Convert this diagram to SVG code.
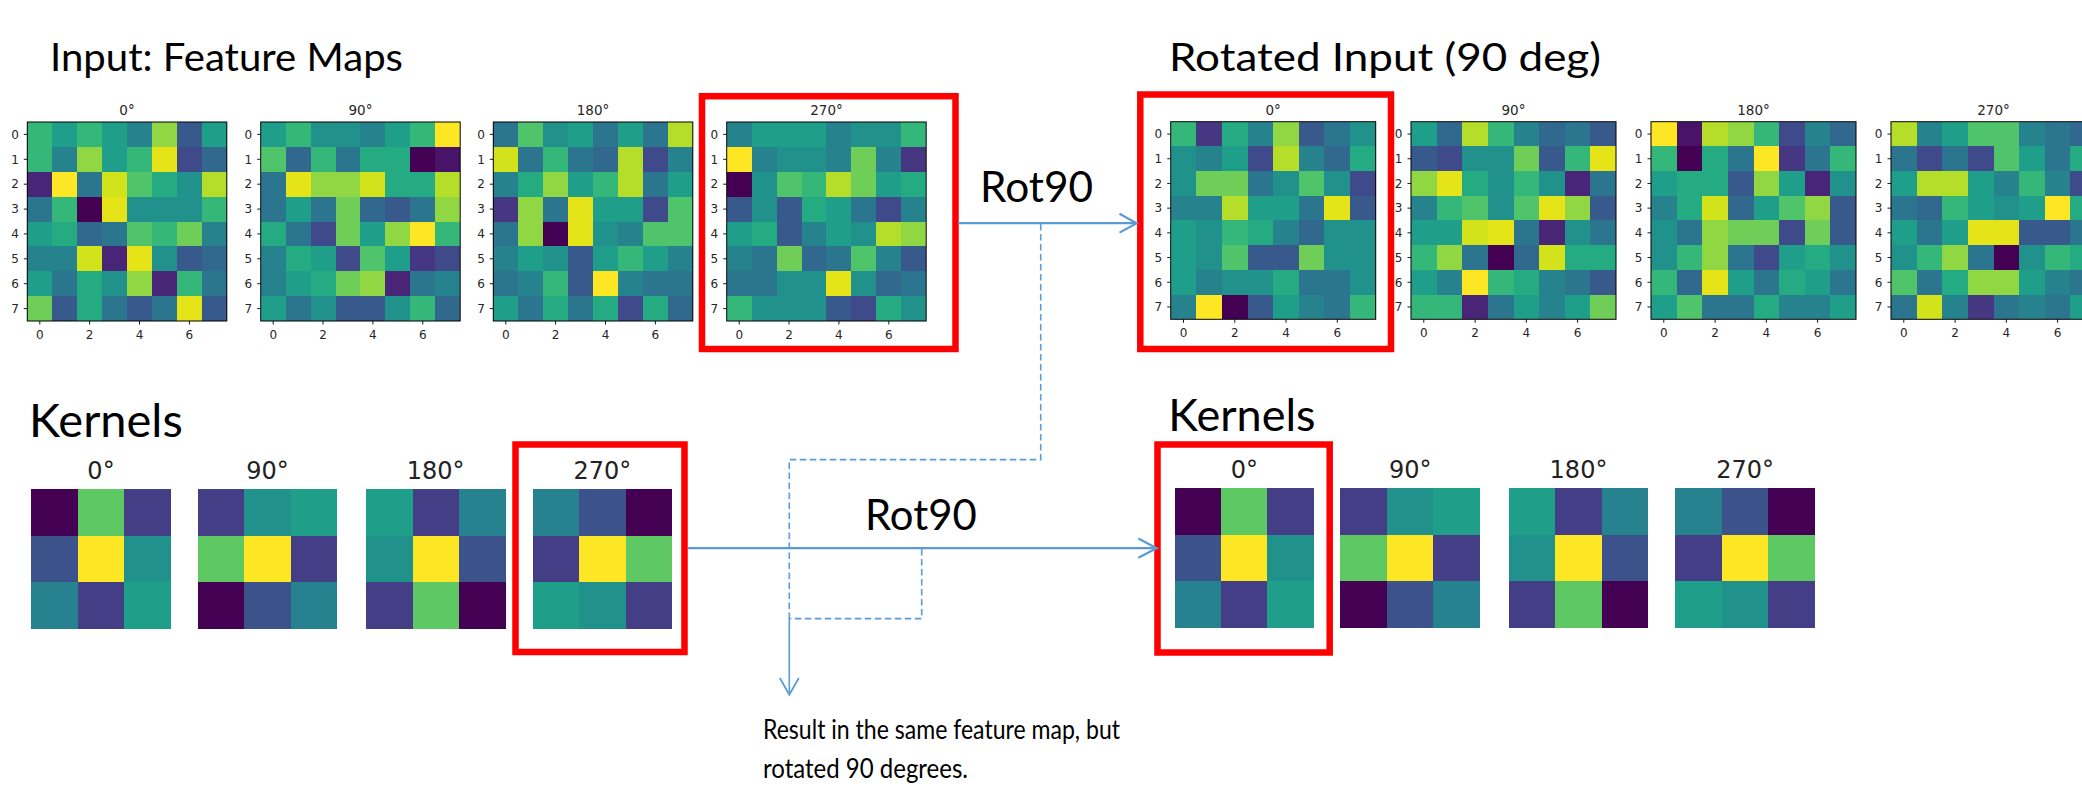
<svg xmlns="http://www.w3.org/2000/svg" xmlns:xlink="http://www.w3.org/1999/xlink" width="2082" height="793" viewBox="0 0 2082 793">
<style>
.k0{fill:#440154}.k1{fill:#47146a}.k2{fill:#482576}.k3{fill:#453781}.k4{fill:#3e4a89}.k5{fill:#38598c}.k6{fill:#31688e}.k7{fill:#2b758e}.k8{fill:#26838e}.k9{fill:#21918c}.k10{fill:#1f9e89}.k11{fill:#25ab82}.k12{fill:#35b779}.k13{fill:#4fc46a}.k14{fill:#6ece58}.k15{fill:#90d743}.k16{fill:#b5de2b}.k17{fill:#d2e21b}.k18{fill:#e5e419}.k19{fill:#fde725}
.frame{fill:none;stroke:#000;stroke-width:1}
.tick{fill:none;stroke:#000;stroke-width:0.9}
.tle{font-family:"DejaVu Sans",sans-serif;font-size:12px;fill:#262626;text-anchor:end}
.tlm{font-family:"DejaVu Sans",sans-serif;font-size:12px;fill:#262626;text-anchor:middle}
.st{font-family:"DejaVu Sans",sans-serif;font-size:13.5px;fill:#262626;text-anchor:middle}
.kt{font-family:"DejaVu Sans",sans-serif;font-size:24px;fill:#222;text-anchor:middle}
.red{fill:none;stroke:#ff0000;stroke-width:6.5}
.big{font-family:Lato,"Liberation Sans",sans-serif;fill:#000}
.conn{fill:none;stroke:#5b9bd5;stroke-width:2.2}
.dash{fill:none;stroke:#5b9bd5;stroke-width:1.6;stroke-dasharray:6.5 3.5}
</style>
<defs>
<g id="mA" shape-rendering="crispEdges">
<rect x="0" y="0" width="1" height="1" class="k12"/><rect x="1" y="0" width="1" height="1" class="k10"/><rect x="2" y="0" width="1" height="1" class="k12"/><rect x="3" y="0" width="1" height="1" class="k10"/><rect x="4" y="0" width="1" height="1" class="k8"/><rect x="5" y="0" width="1" height="1" class="k15"/><rect x="6" y="0" width="1" height="1" class="k5"/><rect x="7" y="0" width="1" height="1" class="k10"/>
<rect x="0" y="1" width="1" height="1" class="k12"/><rect x="1" y="1" width="1" height="1" class="k8"/><rect x="2" y="1" width="1" height="1" class="k15"/><rect x="3" y="1" width="1" height="1" class="k10"/><rect x="4" y="1" width="1" height="1" class="k12"/><rect x="5" y="1" width="1" height="1" class="k18"/><rect x="6" y="1" width="1" height="1" class="k4"/><rect x="7" y="1" width="1" height="1" class="k6"/>
<rect x="0" y="2" width="1" height="1" class="k2"/><rect x="1" y="2" width="1" height="1" class="k19"/><rect x="2" y="2" width="1" height="1" class="k7"/><rect x="3" y="2" width="1" height="1" class="k17"/><rect x="4" y="2" width="1" height="1" class="k13"/><rect x="5" y="2" width="1" height="1" class="k11"/><rect x="6" y="2" width="1" height="1" class="k9"/><rect x="7" y="2" width="1" height="1" class="k16"/>
<rect x="0" y="3" width="1" height="1" class="k7"/><rect x="1" y="3" width="1" height="1" class="k12"/><rect x="2" y="3" width="1" height="1" class="k0"/><rect x="3" y="3" width="1" height="1" class="k18"/><rect x="4" y="3" width="1" height="1" class="k9"/><rect x="5" y="3" width="1" height="1" class="k9"/><rect x="6" y="3" width="1" height="1" class="k9"/><rect x="7" y="3" width="1" height="1" class="k12"/>
<rect x="0" y="4" width="1" height="1" class="k10"/><rect x="1" y="4" width="1" height="1" class="k11"/><rect x="2" y="4" width="1" height="1" class="k6"/><rect x="3" y="4" width="1" height="1" class="k7"/><rect x="4" y="4" width="1" height="1" class="k13"/><rect x="5" y="4" width="1" height="1" class="k12"/><rect x="6" y="4" width="1" height="1" class="k14"/><rect x="7" y="4" width="1" height="1" class="k8"/>
<rect x="0" y="5" width="1" height="1" class="k8"/><rect x="1" y="5" width="1" height="1" class="k8"/><rect x="2" y="5" width="1" height="1" class="k17"/><rect x="3" y="5" width="1" height="1" class="k2"/><rect x="4" y="5" width="1" height="1" class="k18"/><rect x="5" y="5" width="1" height="1" class="k9"/><rect x="6" y="5" width="1" height="1" class="k5"/><rect x="7" y="5" width="1" height="1" class="k6"/>
<rect x="0" y="6" width="1" height="1" class="k10"/><rect x="1" y="6" width="1" height="1" class="k7"/><rect x="2" y="6" width="1" height="1" class="k11"/><rect x="3" y="6" width="1" height="1" class="k9"/><rect x="4" y="6" width="1" height="1" class="k15"/><rect x="5" y="6" width="1" height="1" class="k2"/><rect x="6" y="6" width="1" height="1" class="k12"/><rect x="7" y="6" width="1" height="1" class="k7"/>
<rect x="0" y="7" width="1" height="1" class="k14"/><rect x="1" y="7" width="1" height="1" class="k5"/><rect x="2" y="7" width="1" height="1" class="k11"/><rect x="3" y="7" width="1" height="1" class="k7"/><rect x="4" y="7" width="1" height="1" class="k5"/><rect x="5" y="7" width="1" height="1" class="k7"/><rect x="6" y="7" width="1" height="1" class="k18"/><rect x="7" y="7" width="1" height="1" class="k5"/>
</g>
<g id="mB" shape-rendering="crispEdges">
<rect x="0" y="0" width="1" height="1" class="k10"/><rect x="1" y="0" width="1" height="1" class="k12"/><rect x="2" y="0" width="1" height="1" class="k9"/><rect x="3" y="0" width="1" height="1" class="k9"/><rect x="4" y="0" width="1" height="1" class="k8"/><rect x="5" y="0" width="1" height="1" class="k10"/><rect x="6" y="0" width="1" height="1" class="k12"/><rect x="7" y="0" width="1" height="1" class="k19"/>
<rect x="0" y="1" width="1" height="1" class="k13"/><rect x="1" y="1" width="1" height="1" class="k6"/><rect x="2" y="1" width="1" height="1" class="k12"/><rect x="3" y="1" width="1" height="1" class="k7"/><rect x="4" y="1" width="1" height="1" class="k11"/><rect x="5" y="1" width="1" height="1" class="k11"/><rect x="6" y="1" width="1" height="1" class="k0"/><rect x="7" y="1" width="1" height="1" class="k1"/>
<rect x="0" y="2" width="1" height="1" class="k7"/><rect x="1" y="2" width="1" height="1" class="k18"/><rect x="2" y="2" width="1" height="1" class="k15"/><rect x="3" y="2" width="1" height="1" class="k15"/><rect x="4" y="2" width="1" height="1" class="k17"/><rect x="5" y="2" width="1" height="1" class="k11"/><rect x="6" y="2" width="1" height="1" class="k11"/><rect x="7" y="2" width="1" height="1" class="k16"/>
<rect x="0" y="3" width="1" height="1" class="k7"/><rect x="1" y="3" width="1" height="1" class="k10"/><rect x="2" y="3" width="1" height="1" class="k7"/><rect x="3" y="3" width="1" height="1" class="k14"/><rect x="4" y="3" width="1" height="1" class="k6"/><rect x="5" y="3" width="1" height="1" class="k5"/><rect x="6" y="3" width="1" height="1" class="k7"/><rect x="7" y="3" width="1" height="1" class="k15"/>
<rect x="0" y="4" width="1" height="1" class="k11"/><rect x="1" y="4" width="1" height="1" class="k7"/><rect x="2" y="4" width="1" height="1" class="k4"/><rect x="3" y="4" width="1" height="1" class="k14"/><rect x="4" y="4" width="1" height="1" class="k10"/><rect x="5" y="4" width="1" height="1" class="k15"/><rect x="6" y="4" width="1" height="1" class="k19"/><rect x="7" y="4" width="1" height="1" class="k12"/>
<rect x="0" y="5" width="1" height="1" class="k8"/><rect x="1" y="5" width="1" height="1" class="k11"/><rect x="2" y="5" width="1" height="1" class="k10"/><rect x="3" y="5" width="1" height="1" class="k4"/><rect x="4" y="5" width="1" height="1" class="k13"/><rect x="5" y="5" width="1" height="1" class="k10"/><rect x="6" y="5" width="1" height="1" class="k3"/><rect x="7" y="5" width="1" height="1" class="k4"/>
<rect x="0" y="6" width="1" height="1" class="k8"/><rect x="1" y="6" width="1" height="1" class="k10"/><rect x="2" y="6" width="1" height="1" class="k11"/><rect x="3" y="6" width="1" height="1" class="k14"/><rect x="4" y="6" width="1" height="1" class="k15"/><rect x="5" y="6" width="1" height="1" class="k2"/><rect x="6" y="6" width="1" height="1" class="k7"/><rect x="7" y="6" width="1" height="1" class="k8"/>
<rect x="0" y="7" width="1" height="1" class="k10"/><rect x="1" y="7" width="1" height="1" class="k7"/><rect x="2" y="7" width="1" height="1" class="k9"/><rect x="3" y="7" width="1" height="1" class="k5"/><rect x="4" y="7" width="1" height="1" class="k5"/><rect x="5" y="7" width="1" height="1" class="k9"/><rect x="6" y="7" width="1" height="1" class="k12"/><rect x="7" y="7" width="1" height="1" class="k6"/>
</g>
<g id="mC" shape-rendering="crispEdges">
<rect x="0" y="0" width="1" height="1" class="k7"/><rect x="1" y="0" width="1" height="1" class="k13"/><rect x="2" y="0" width="1" height="1" class="k9"/><rect x="3" y="0" width="1" height="1" class="k10"/><rect x="4" y="0" width="1" height="1" class="k7"/><rect x="5" y="0" width="1" height="1" class="k10"/><rect x="6" y="0" width="1" height="1" class="k7"/><rect x="7" y="0" width="1" height="1" class="k16"/>
<rect x="0" y="1" width="1" height="1" class="k17"/><rect x="1" y="1" width="1" height="1" class="k7"/><rect x="2" y="1" width="1" height="1" class="k12"/><rect x="3" y="1" width="1" height="1" class="k7"/><rect x="4" y="1" width="1" height="1" class="k6"/><rect x="5" y="1" width="1" height="1" class="k16"/><rect x="6" y="1" width="1" height="1" class="k4"/><rect x="7" y="1" width="1" height="1" class="k8"/>
<rect x="0" y="2" width="1" height="1" class="k8"/><rect x="1" y="2" width="1" height="1" class="k11"/><rect x="2" y="2" width="1" height="1" class="k15"/><rect x="3" y="2" width="1" height="1" class="k10"/><rect x="4" y="2" width="1" height="1" class="k12"/><rect x="5" y="2" width="1" height="1" class="k16"/><rect x="6" y="2" width="1" height="1" class="k7"/><rect x="7" y="2" width="1" height="1" class="k10"/>
<rect x="0" y="3" width="1" height="1" class="k3"/><rect x="1" y="3" width="1" height="1" class="k15"/><rect x="2" y="3" width="1" height="1" class="k7"/><rect x="3" y="3" width="1" height="1" class="k18"/><rect x="4" y="3" width="1" height="1" class="k10"/><rect x="5" y="3" width="1" height="1" class="k10"/><rect x="6" y="3" width="1" height="1" class="k4"/><rect x="7" y="3" width="1" height="1" class="k13"/>
<rect x="0" y="4" width="1" height="1" class="k7"/><rect x="1" y="4" width="1" height="1" class="k15"/><rect x="2" y="4" width="1" height="1" class="k0"/><rect x="3" y="4" width="1" height="1" class="k18"/><rect x="4" y="4" width="1" height="1" class="k9"/><rect x="5" y="4" width="1" height="1" class="k8"/><rect x="6" y="4" width="1" height="1" class="k13"/><rect x="7" y="4" width="1" height="1" class="k13"/>
<rect x="0" y="5" width="1" height="1" class="k8"/><rect x="1" y="5" width="1" height="1" class="k10"/><rect x="2" y="5" width="1" height="1" class="k9"/><rect x="3" y="5" width="1" height="1" class="k5"/><rect x="4" y="5" width="1" height="1" class="k10"/><rect x="5" y="5" width="1" height="1" class="k12"/><rect x="6" y="5" width="1" height="1" class="k10"/><rect x="7" y="5" width="1" height="1" class="k8"/>
<rect x="0" y="6" width="1" height="1" class="k7"/><rect x="1" y="6" width="1" height="1" class="k8"/><rect x="2" y="6" width="1" height="1" class="k12"/><rect x="3" y="6" width="1" height="1" class="k5"/><rect x="4" y="6" width="1" height="1" class="k19"/><rect x="5" y="6" width="1" height="1" class="k8"/><rect x="6" y="6" width="1" height="1" class="k7"/><rect x="7" y="6" width="1" height="1" class="k7"/>
<rect x="0" y="7" width="1" height="1" class="k10"/><rect x="1" y="7" width="1" height="1" class="k7"/><rect x="2" y="7" width="1" height="1" class="k11"/><rect x="3" y="7" width="1" height="1" class="k7"/><rect x="4" y="7" width="1" height="1" class="k11"/><rect x="5" y="7" width="1" height="1" class="k4"/><rect x="6" y="7" width="1" height="1" class="k11"/><rect x="7" y="7" width="1" height="1" class="k6"/>
</g>
<g id="mD" shape-rendering="crispEdges">
<rect x="0" y="0" width="1" height="1" class="k8"/><rect x="1" y="0" width="1" height="1" class="k10"/><rect x="2" y="0" width="1" height="1" class="k10"/><rect x="3" y="0" width="1" height="1" class="k10"/><rect x="4" y="0" width="1" height="1" class="k8"/><rect x="5" y="0" width="1" height="1" class="k9"/><rect x="6" y="0" width="1" height="1" class="k9"/><rect x="7" y="0" width="1" height="1" class="k12"/>
<rect x="0" y="1" width="1" height="1" class="k19"/><rect x="1" y="1" width="1" height="1" class="k8"/><rect x="2" y="1" width="1" height="1" class="k9"/><rect x="3" y="1" width="1" height="1" class="k9"/><rect x="4" y="1" width="1" height="1" class="k8"/><rect x="5" y="1" width="1" height="1" class="k14"/><rect x="6" y="1" width="1" height="1" class="k8"/><rect x="7" y="1" width="1" height="1" class="k3"/>
<rect x="0" y="2" width="1" height="1" class="k0"/><rect x="1" y="2" width="1" height="1" class="k9"/><rect x="2" y="2" width="1" height="1" class="k13"/><rect x="3" y="2" width="1" height="1" class="k12"/><rect x="4" y="2" width="1" height="1" class="k16"/><rect x="5" y="2" width="1" height="1" class="k14"/><rect x="6" y="2" width="1" height="1" class="k10"/><rect x="7" y="2" width="1" height="1" class="k11"/>
<rect x="0" y="3" width="1" height="1" class="k5"/><rect x="1" y="3" width="1" height="1" class="k9"/><rect x="2" y="3" width="1" height="1" class="k5"/><rect x="3" y="3" width="1" height="1" class="k11"/><rect x="4" y="3" width="1" height="1" class="k10"/><rect x="5" y="3" width="1" height="1" class="k7"/><rect x="6" y="3" width="1" height="1" class="k4"/><rect x="7" y="3" width="1" height="1" class="k8"/>
<rect x="0" y="4" width="1" height="1" class="k10"/><rect x="1" y="4" width="1" height="1" class="k11"/><rect x="2" y="4" width="1" height="1" class="k5"/><rect x="3" y="4" width="1" height="1" class="k8"/><rect x="4" y="4" width="1" height="1" class="k10"/><rect x="5" y="4" width="1" height="1" class="k9"/><rect x="6" y="4" width="1" height="1" class="k16"/><rect x="7" y="4" width="1" height="1" class="k15"/>
<rect x="0" y="5" width="1" height="1" class="k8"/><rect x="1" y="5" width="1" height="1" class="k7"/><rect x="2" y="5" width="1" height="1" class="k14"/><rect x="3" y="5" width="1" height="1" class="k6"/><rect x="4" y="5" width="1" height="1" class="k7"/><rect x="5" y="5" width="1" height="1" class="k13"/><rect x="6" y="5" width="1" height="1" class="k8"/><rect x="7" y="5" width="1" height="1" class="k5"/>
<rect x="0" y="6" width="1" height="1" class="k7"/><rect x="1" y="6" width="1" height="1" class="k7"/><rect x="2" y="6" width="1" height="1" class="k9"/><rect x="3" y="6" width="1" height="1" class="k9"/><rect x="4" y="6" width="1" height="1" class="k18"/><rect x="5" y="6" width="1" height="1" class="k9"/><rect x="6" y="6" width="1" height="1" class="k6"/><rect x="7" y="6" width="1" height="1" class="k7"/>
<rect x="0" y="7" width="1" height="1" class="k12"/><rect x="1" y="7" width="1" height="1" class="k9"/><rect x="2" y="7" width="1" height="1" class="k9"/><rect x="3" y="7" width="1" height="1" class="k9"/><rect x="4" y="7" width="1" height="1" class="k5"/><rect x="5" y="7" width="1" height="1" class="k4"/><rect x="6" y="7" width="1" height="1" class="k11"/><rect x="7" y="7" width="1" height="1" class="k9"/>
</g>
<g id="kern" shape-rendering="crispEdges">
<rect x="0" y="0" width="1" height="1" fill="#440154"/><rect x="1" y="0" width="1" height="1" fill="#5ec962"/><rect x="2" y="0" width="1" height="1" fill="#433e85"/>
<rect x="0" y="1" width="1" height="1" fill="#3b528b"/><rect x="1" y="1" width="1" height="1" fill="#fde725"/><rect x="2" y="1" width="1" height="1" fill="#21918c"/>
<rect x="0" y="2" width="1" height="1" fill="#26828e"/><rect x="1" y="2" width="1" height="1" fill="#433e85"/><rect x="2" y="2" width="1" height="1" fill="#1f9e89"/>
</g>
</defs>
<rect width="2082" height="793" fill="#fff"/>

<g id="title-input"><text class="big" x="50" y="71" font-size="38" textLength="353" lengthAdjust="spacingAndGlyphs">Input: Feature Maps</text></g>
<g id="title-rotated"><text class="big" x="1169" y="71" font-size="38" textLength="432" lengthAdjust="spacingAndGlyphs">Rotated Input (90 deg)</text></g>

<g id="input-0">
<use xlink:href="#mA" href="#mA" transform="translate(27.3,122) scale(24.94,24.875)"/>
<rect class="frame" x="27.3" y="122" width="199.5" height="199"/>
<path class="tick" d="M23.8 134.4h3.5M23.8 159.3h3.5M23.8 184.2h3.5M23.8 209.1h3.5M23.8 233.9h3.5M23.8 258.8h3.5M23.8 283.7h3.5M23.8 308.6h3.5M39.8 321v3.5M89.6 321v3.5M139.5 321v3.5M189.4 321v3.5"/>
<text class="st" x="127" y="115">0°</text>
<text class="tle" x="18.8" y="138.6">0</text><text class="tle" x="18.8" y="163.5">1</text><text class="tle" x="18.8" y="188.4">2</text><text class="tle" x="18.8" y="213.3">3</text><text class="tle" x="18.8" y="238.1">4</text><text class="tle" x="18.8" y="263">5</text><text class="tle" x="18.8" y="287.9">6</text><text class="tle" x="18.8" y="312.8">7</text>
<text class="tlm" x="39.8" y="339">0</text><text class="tlm" x="89.6" y="339">2</text><text class="tlm" x="139.5" y="339">4</text><text class="tlm" x="189.4" y="339">6</text>
</g>
<g id="input-90">
<use xlink:href="#mB" href="#mB" transform="translate(260.7,122) scale(24.94,24.875)"/>
<rect class="frame" x="260.7" y="122" width="199.5" height="199"/>
<path class="tick" d="M257.2 134.4h3.5M257.2 159.3h3.5M257.2 184.2h3.5M257.2 209.1h3.5M257.2 233.9h3.5M257.2 258.8h3.5M257.2 283.7h3.5M257.2 308.6h3.5M273.2 321v3.5M323 321v3.5M372.9 321v3.5M422.8 321v3.5"/>
<text class="st" x="360.5" y="115">90°</text>
<text class="tle" x="252.2" y="138.6">0</text><text class="tle" x="252.2" y="163.5">1</text><text class="tle" x="252.2" y="188.4">2</text><text class="tle" x="252.2" y="213.3">3</text><text class="tle" x="252.2" y="238.1">4</text><text class="tle" x="252.2" y="263">5</text><text class="tle" x="252.2" y="287.9">6</text><text class="tle" x="252.2" y="312.8">7</text>
<text class="tlm" x="273.2" y="339">0</text><text class="tlm" x="323" y="339">2</text><text class="tlm" x="372.9" y="339">4</text><text class="tlm" x="422.8" y="339">6</text>
</g>
<g id="input-180">
<use xlink:href="#mC" href="#mC" transform="translate(493.3,122) scale(24.94,24.875)"/>
<rect class="frame" x="493.3" y="122" width="199.5" height="199"/>
<path class="tick" d="M489.8 134.4h3.5M489.8 159.3h3.5M489.8 184.2h3.5M489.8 209.1h3.5M489.8 233.9h3.5M489.8 258.8h3.5M489.8 283.7h3.5M489.8 308.6h3.5M505.8 321v3.5M555.6 321v3.5M605.5 321v3.5M655.4 321v3.5"/>
<text class="st" x="593" y="115">180°</text>
<text class="tle" x="484.8" y="138.6">0</text><text class="tle" x="484.8" y="163.5">1</text><text class="tle" x="484.8" y="188.4">2</text><text class="tle" x="484.8" y="213.3">3</text><text class="tle" x="484.8" y="238.1">4</text><text class="tle" x="484.8" y="263">5</text><text class="tle" x="484.8" y="287.9">6</text><text class="tle" x="484.8" y="312.8">7</text>
<text class="tlm" x="505.8" y="339">0</text><text class="tlm" x="555.6" y="339">2</text><text class="tlm" x="605.5" y="339">4</text><text class="tlm" x="655.4" y="339">6</text>
</g>
<g id="input-270">
<use xlink:href="#mD" href="#mD" transform="translate(726.7,122) scale(24.94,24.875)"/>
<rect class="frame" x="726.7" y="122" width="199.5" height="199"/>
<path class="tick" d="M723.2 134.4h3.5M723.2 159.3h3.5M723.2 184.2h3.5M723.2 209.1h3.5M723.2 233.9h3.5M723.2 258.8h3.5M723.2 283.7h3.5M723.2 308.6h3.5M739.2 321v3.5M789 321v3.5M838.9 321v3.5M888.8 321v3.5"/>
<text class="st" x="826.5" y="115">270°</text>
<text class="tle" x="718.2" y="138.6">0</text><text class="tle" x="718.2" y="163.5">1</text><text class="tle" x="718.2" y="188.4">2</text><text class="tle" x="718.2" y="213.3">3</text><text class="tle" x="718.2" y="238.1">4</text><text class="tle" x="718.2" y="263">5</text><text class="tle" x="718.2" y="287.9">6</text><text class="tle" x="718.2" y="312.8">7</text>
<text class="tlm" x="739.2" y="339">0</text><text class="tlm" x="789" y="339">2</text><text class="tlm" x="838.9" y="339">4</text><text class="tlm" x="888.8" y="339">6</text>
<rect class="red" x="702" y="96.2" width="253.5" height="252.8"/>
</g>

<g id="rot-0">
<use xlink:href="#mD" href="#mD" transform="translate(1170.7,121.7) scale(25.625,24.7) rotate(-90 4 4)"/>
<rect class="frame" x="1170.7" y="121.7" width="205" height="197.6"/>
<path class="tick" d="M1167.2 134.05h3.5M1167.2 158.75h3.5M1167.2 183.45h3.5M1167.2 208.15h3.5M1167.2 232.85h3.5M1167.2 257.55h3.5M1167.2 282.25h3.5M1167.2 306.95h3.5M1183.5 319.3v3.5M1234.8 319.3v3.5M1286 319.3v3.5M1337.3 319.3v3.5"/>
<text class="st" x="1273.2" y="115">0°</text>
<text class="tle" x="1162.2" y="138.3">0</text><text class="tle" x="1162.2" y="163">1</text><text class="tle" x="1162.2" y="187.7">2</text><text class="tle" x="1162.2" y="212.4">3</text><text class="tle" x="1162.2" y="237.1">4</text><text class="tle" x="1162.2" y="261.8">5</text><text class="tle" x="1162.2" y="286.5">6</text><text class="tle" x="1162.2" y="311.2">7</text>
<text class="tlm" x="1183.5" y="337.3">0</text><text class="tlm" x="1234.8" y="337.3">2</text><text class="tlm" x="1286" y="337.3">4</text><text class="tlm" x="1337.3" y="337.3">6</text>
<rect class="red" x="1140.3" y="94.5" width="250.7" height="254.5"/>
</g>
<g id="rot-90">
<use xlink:href="#mA" href="#mA" transform="translate(1411,121.7) scale(25.625,24.7) rotate(-90 4 4)"/>
<rect class="frame" x="1411" y="121.7" width="205" height="197.6"/>
<path class="tick" d="M1407.5 134.05h3.5M1407.5 158.75h3.5M1407.5 183.45h3.5M1407.5 208.15h3.5M1407.5 232.85h3.5M1407.5 257.55h3.5M1407.5 282.25h3.5M1407.5 306.95h3.5M1423.8 319.3v3.5M1475.1 319.3v3.5M1526.3 319.3v3.5M1577.6 319.3v3.5"/>
<text class="st" x="1513.5" y="115">90°</text>
<text class="tle" x="1402.5" y="138.3">0</text><text class="tle" x="1402.5" y="163">1</text><text class="tle" x="1402.5" y="187.7">2</text><text class="tle" x="1402.5" y="212.4">3</text><text class="tle" x="1402.5" y="237.1">4</text><text class="tle" x="1402.5" y="261.8">5</text><text class="tle" x="1402.5" y="286.5">6</text><text class="tle" x="1402.5" y="311.2">7</text>
<text class="tlm" x="1423.8" y="337.3">0</text><text class="tlm" x="1475.1" y="337.3">2</text><text class="tlm" x="1526.3" y="337.3">4</text><text class="tlm" x="1577.6" y="337.3">6</text>
</g>
<g id="rot-180">
<use xlink:href="#mB" href="#mB" transform="translate(1651,121.7) scale(25.625,24.7) rotate(-90 4 4)"/>
<rect class="frame" x="1651" y="121.7" width="205" height="197.6"/>
<path class="tick" d="M1647.5 134.05h3.5M1647.5 158.75h3.5M1647.5 183.45h3.5M1647.5 208.15h3.5M1647.5 232.85h3.5M1647.5 257.55h3.5M1647.5 282.25h3.5M1647.5 306.95h3.5M1663.8 319.3v3.5M1715.1 319.3v3.5M1766.3 319.3v3.5M1817.6 319.3v3.5"/>
<text class="st" x="1753.5" y="115">180°</text>
<text class="tle" x="1642.5" y="138.3">0</text><text class="tle" x="1642.5" y="163">1</text><text class="tle" x="1642.5" y="187.7">2</text><text class="tle" x="1642.5" y="212.4">3</text><text class="tle" x="1642.5" y="237.1">4</text><text class="tle" x="1642.5" y="261.8">5</text><text class="tle" x="1642.5" y="286.5">6</text><text class="tle" x="1642.5" y="311.2">7</text>
<text class="tlm" x="1663.8" y="337.3">0</text><text class="tlm" x="1715.1" y="337.3">2</text><text class="tlm" x="1766.3" y="337.3">4</text><text class="tlm" x="1817.6" y="337.3">6</text>
</g>
<g id="rot-270">
<use xlink:href="#mC" href="#mC" transform="translate(1891,121.7) scale(25.625,24.7) rotate(-90 4 4)"/>
<rect class="frame" x="1891" y="121.7" width="205" height="197.6"/>
<path class="tick" d="M1887.5 134.05h3.5M1887.5 158.75h3.5M1887.5 183.45h3.5M1887.5 208.15h3.5M1887.5 232.85h3.5M1887.5 257.55h3.5M1887.5 282.25h3.5M1887.5 306.95h3.5M1903.8 319.3v3.5M1955.1 319.3v3.5M2006.3 319.3v3.5M2057.6 319.3v3.5"/>
<text class="st" x="1993.5" y="115">270°</text>
<text class="tle" x="1882.5" y="138.3">0</text><text class="tle" x="1882.5" y="163">1</text><text class="tle" x="1882.5" y="187.7">2</text><text class="tle" x="1882.5" y="212.4">3</text><text class="tle" x="1882.5" y="237.1">4</text><text class="tle" x="1882.5" y="261.8">5</text><text class="tle" x="1882.5" y="286.5">6</text><text class="tle" x="1882.5" y="311.2">7</text>
<text class="tlm" x="1903.8" y="337.3">0</text><text class="tlm" x="1955.1" y="337.3">2</text><text class="tlm" x="2006.3" y="337.3">4</text><text class="tlm" x="2057.6" y="337.3">6</text>
</g>

<g id="kernels-left">
<text class="big" x="29" y="437" font-size="47">Kernels</text>
<g id="kl-0"><text class="kt" x="101" y="479">0°</text><use xlink:href="#kern" href="#kern" transform="translate(31.2,489.3) scale(46.5)"/></g>
<g id="kl-90"><text class="kt" x="267.5" y="479">90°</text><use xlink:href="#kern" href="#kern" transform="translate(197.8,489.3) scale(46.5) rotate(-90 1.5 1.5)"/></g>
<g id="kl-180"><text class="kt" x="435.7" y="479">180°</text><use xlink:href="#kern" href="#kern" transform="translate(366,489.3) scale(46.5) rotate(180 1.5 1.5)"/></g>
<g id="kl-270"><text class="kt" x="602.3" y="479">270°</text><use xlink:href="#kern" href="#kern" transform="translate(532.6,489.3) scale(46.5) rotate(90 1.5 1.5)"/>
<rect class="red" x="515.5" y="444.5" width="169" height="207.5"/></g>
</g>

<g id="kernels-right">
<text class="big" x="1168.3" y="431" font-size="45">Kernels</text>
<g id="kr-0"><text class="kt" x="1244.3" y="478">0°</text><use xlink:href="#kern" href="#kern" transform="translate(1174.5,488.3) scale(46.4)"/>
<rect class="red" x="1157.5" y="444.5" width="172.2" height="208"/></g>
<g id="kr-90"><text class="kt" x="1410.3" y="478">90°</text><use xlink:href="#kern" href="#kern" transform="translate(1340.3,488.3) scale(46.4) rotate(-90 1.5 1.5)"/></g>
<g id="kr-180"><text class="kt" x="1578.5" y="478">180°</text><use xlink:href="#kern" href="#kern" transform="translate(1508.8,488.3) scale(46.4) rotate(180 1.5 1.5)"/></g>
<g id="kr-270"><text class="kt" x="1745.2" y="478">270°</text><use xlink:href="#kern" href="#kern" transform="translate(1675.5,488.3) scale(46.4) rotate(90 1.5 1.5)"/></g>
</g>

<g id="connectors">
<path class="conn" d="M958 223.2H1136"/>
<path class="conn" d="M1119.5 213.8L1136.7 223.2L1119.5 232.6"/>
<path class="conn" d="M688 548.2H1156"/>
<path class="conn" d="M1138.3 538.6L1156.7 548.2L1138.3 557.8"/>
<path class="dash" d="M1040.7 224V459.6H789.3V618.6"/>
<path class="dash" d="M921.7 549V618.6H789.3"/>
<path class="conn" d="M789.3 618.6V694" style="stroke-width:1.6"/>
<path class="conn" d="M779.8 678L789.3 694.6L798.8 678" style="stroke-width:1.8"/>
</g>
<g id="labels">
<text class="big" x="980" y="201.8" font-size="42" textLength="113" lengthAdjust="spacingAndGlyphs">Rot90</text>
<text class="big" x="865" y="530.4" font-size="42" textLength="111.7" lengthAdjust="spacingAndGlyphs">Rot90</text>
<text class="big" x="763" y="739" font-size="27" textLength="357" lengthAdjust="spacingAndGlyphs">Result in the same feature map, but</text>
<text class="big" x="763" y="778" font-size="27" textLength="205" lengthAdjust="spacingAndGlyphs">rotated 90 degrees.</text>
</g>
</svg>
